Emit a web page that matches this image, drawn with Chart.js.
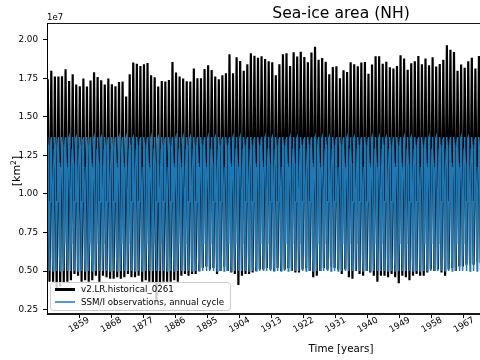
<!DOCTYPE html>
<html>
<head>
<meta charset="utf-8">
<style>
html, body { margin: 0; padding: 0; overflow: hidden; background: #fff; width: 480px; height: 360px; }
#wrap { width: 640px; height: 360px; }
</style>
<script src="https://cdn.jsdelivr.net/npm/chart.js@4.4.1/dist/chart.umd.min.js"></script>
</head>
<body>
<div id="wrap"><canvas id="grafica" width="640" height="360"></canvas></div>
<script>
// valores en unidades de 1e7 km2
const firstYear = 1850;
const annualMax = [
    1.745, 1.800, 1.762, 1.762, 1.765, 1.810, 1.734, 1.777, 1.710, 1.700,
    1.750, 1.697, 1.736, 1.790, 1.760, 1.738, 1.710, 1.749, 1.712, 1.700,
    1.727, 1.730, 1.632, 1.777, 1.853, 1.846, 1.831, 1.842, 1.850, 1.771,
    1.758, 1.697, 1.734, 1.730, 1.740, 1.857, 1.788, 1.762, 1.749, 1.732,
    1.730, 1.814, 1.751, 1.751, 1.812, 1.836, 1.805, 1.762, 1.745, 1.771,
    1.784, 1.907, 1.784, 1.888, 1.864, 1.800, 1.842, 1.913, 1.898, 1.885,
    1.894, 1.877, 1.862, 1.855, 1.771, 1.842, 1.907, 1.913, 1.831, 1.920,
    1.892, 1.924, 1.890, 1.855, 1.918, 1.955, 1.872, 1.883, 1.859, 1.777,
    1.825, 1.829, 1.751, 1.803, 1.792, 1.855, 1.842, 1.829, 1.853, 1.857,
    1.781, 1.840, 1.894, 1.894, 1.846, 1.859, 1.823, 1.814, 1.831, 1.900,
    1.879, 1.807, 1.849, 1.862, 1.896, 1.842, 1.879, 1.836, 1.888, 1.827,
    1.844, 1.872, 1.965, 1.937, 1.922, 1.800, 1.840, 1.820, 1.862, 1.885,
    1.814, 1.896
];
const annualMin = [
    0.43, 0.43, 0.38, 0.40, 0.42, 0.43, 0.44, 0.48, 0.47, 0.43,
    0.44, 0.43, 0.44, 0.47, 0.43, 0.47, 0.46, 0.45, 0.45, 0.46,
    0.45, 0.46, 0.48, 0.46, 0.46, 0.47, 0.43, 0.44, 0.43, 0.42,
    0.30, 0.40, 0.43, 0.43, 0.43, 0.44, 0.43, 0.47, 0.48, 0.47,
    0.48, 0.48, 0.50, 0.52, 0.53, 0.51, 0.52, 0.48, 0.50, 0.53,
    0.50, 0.49, 0.48, 0.41, 0.47, 0.48, 0.48, 0.49, 0.50, 0.51,
    0.51, 0.52, 0.51, 0.50, 0.52, 0.50, 0.51, 0.52, 0.50, 0.49,
    0.49, 0.51, 0.52, 0.50, 0.46, 0.47, 0.50, 0.52, 0.51, 0.53,
    0.52, 0.51, 0.48, 0.51, 0.46, 0.45, 0.50, 0.48, 0.47, 0.50,
    0.49, 0.47, 0.43, 0.47, 0.47, 0.46, 0.48, 0.46, 0.42, 0.47,
    0.46, 0.44, 0.47, 0.48, 0.47, 0.47, 0.49, 0.51, 0.50, 0.51,
    0.49, 0.47, 0.51, 0.52, 0.50, 0.53, 0.53, 0.54, 0.55, 0.54,
    0.56, 0.55
];
// ciclo anual SSM/I (ene..dic)
const ssmiCycle = [1.29, 1.36, 1.37, 1.32, 1.20, 1.04, 0.80, 0.60, 0.50, 0.68, 0.95, 1.17];
const xTicks = [1859, 1868, 1877, 1886, 1895, 1904, 1913, 1922, 1931, 1940, 1949, 1958, 1967, 1976, 1985, 1994, 2003, 2012];
const yTicks = [0.25, 0.50, 0.75, 1.00, 1.25, 1.50, 1.75, 2.00];

const FONT = "'DejaVu Sans', sans-serif";

// marzo = maximo, septiembre = minimo
let modelPts = [];
annualMax.forEach(function(v, i) {
    const yr = firstYear + i;
    modelPts.push({ x: yr + 2.5 / 12, y: v });
    modelPts.push({ x: yr + 8.5 / 12, y: annualMin[i] });
});

let obsPts = [];
for (let yr = firstYear; yr < firstYear + annualMax.length + 1; yr++) {
    ssmiCycle.forEach(function(v, m) {
        obsPts.push({ x: yr + (m + 0.5) / 12, y: v });
    });
}

const decoraciones = {
    id: 'decoraciones',
    afterDatasetsDraw(chart) {
        const ctx = chart.ctx;
        const a = chart.chartArea;
        ctx.save();
        // marco
        ctx.strokeStyle = '#000';
        ctx.lineWidth = 0.9;
        ctx.strokeRect(a.left + 0.5, a.top + 0.5, a.right - a.left - 1, a.bottom - a.top - 1);

        // leyenda
        const lx = 50, ly = 282, lw = 180, lh = 28;
        ctx.beginPath();
        ctx.roundRect(lx + 0.5, ly + 0.5, lw, lh, 3);
        ctx.fillStyle = 'rgba(255,255,255,0.8)';
        ctx.fill();
        ctx.strokeStyle = '#cccccc';
        ctx.lineWidth = 1;
        ctx.stroke();

        ctx.lineCap = 'butt';
        ctx.beginPath();
        ctx.moveTo(55, 289.5); ctx.lineTo(75, 289.5);
        ctx.strokeStyle = '#000'; ctx.lineWidth = 3; ctx.stroke();
        ctx.beginPath();
        ctx.moveTo(55, 302); ctx.lineTo(75, 302);
        ctx.strokeStyle = '#1f77b4'; ctx.lineWidth = 1.5; ctx.stroke();

        ctx.fillStyle = '#000';
        ctx.font = '8.7px ' + FONT;
        ctx.textAlign = 'left';
        ctx.textBaseline = 'middle';
        ctx.fillText('v2.LR.historical_0261', 81, 290);
        ctx.fillText('SSM/I observations, annual cycle', 81, 302.5);
        ctx.restore();
    },
    afterDraw(chart) {
        const ctx = chart.ctx;
        const a = chart.chartArea;
        const sx = chart.scales.x;
        ctx.save();
        ctx.fillStyle = '#000';

        // etiquetas del eje x, rotadas y centradas en la marca
        ctx.font = '8.8px ' + FONT;
        ctx.textAlign = 'center';
        ctx.textBaseline = 'middle';
        xTicks.forEach(function(v) {
            const px = sx.getPixelForValue(v);
            if (px < a.left || px > a.right) return;
            ctx.save();
            ctx.translate(px, 325);
            ctx.rotate(-Math.PI / 6);
            ctx.fillText(String(v), 0, 0);
            ctx.restore();
        });

        ctx.textBaseline = 'alphabetic';
        ctx.font = '15.6px ' + FONT;
        ctx.textAlign = 'center';
        ctx.fillText('Sea-ice area (NH)', 341, 18);

        ctx.font = '10.3px ' + FONT;
        ctx.fillText('Time [years]', 341, 352);

        ctx.font = '8.5px ' + FONT;
        ctx.textAlign = 'left';
        ctx.fillText('1e7', 47, 20);

        // etiqueta eje y con superindice
        ctx.translate(20, 171);
        ctx.rotate(-Math.PI / 2);
        ctx.font = '11px ' + FONT;
        const p1 = '[km', p2 = '2', p3 = ']';
        const w1 = ctx.measureText(p1).width;
        ctx.font = '7.7px ' + FONT;
        const w2 = ctx.measureText(p2).width;
        ctx.font = '11px ' + FONT;
        const w3 = ctx.measureText(p3).width;
        let x0 = -(w1 + w2 + w3) / 2;
        ctx.fillText(p1, x0, 0);
        ctx.font = '7.7px ' + FONT;
        ctx.fillText(p2, x0 + w1, -4.5);
        ctx.font = '11px ' + FONT;
        ctx.fillText(p3, x0 + w1 + w2, 0);
        ctx.restore();
    }
};

const ctx = document.getElementById('grafica').getContext('2d');
const chartArea = new Chart(ctx, {
    type: 'line',
    data: {
        datasets: [{
            label: 'v2.LR.historical_0261',
            data: modelPts,
            borderColor: '#000',
            borderWidth: 2.2,
            pointRadius: 0,
            tension: 0,
            order: 1
        }, {
            label: 'SSM/I observations, annual cycle',
            data: obsPts,
            borderColor: '#1f77b4',
            borderWidth: 1.5,
            pointRadius: 0,
            tension: 0,
            order: 0
        }]
    },
    options: {
        responsive: false,
        animation: false,
        events: [],
        layout: { padding: { left: 0, right: 5, top: 23, bottom: 0 } },
        plugins: {
            legend: { display: false },
            title: { display: false },
            tooltip: { enabled: false }
        },
        scales: {
            x: {
                type: 'linear',
                min: 1850,
                max: 2015,
                afterBuildTicks: function(scale) {
                    scale.ticks = xTicks.map(v => ({ value: v }));
                },
                afterFit: function(scale) { scale.height = 46; },
                grid: { drawOnChartArea: false, drawTicks: true, tickLength: 4, color: '#000' },
                border: { display: true, color: '#000', width: 0.9 },
                ticks: { display: false }
            },
            y: {
                type: 'linear',
                min: 0.221,
                max: 2.110,
                afterBuildTicks: function(scale) {
                    scale.ticks = yTicks.map(v => ({ value: v }));
                },
                afterFit: function(scale) { scale.width = 47; },
                grid: { drawOnChartArea: false, drawTicks: true, tickLength: 4, color: '#000' },
                border: { display: true, color: '#000', width: 0.9 },
                ticks: {
                    padding: 5,
                    color: '#000',
                    font: { family: FONT, size: 8.8 },
                    callback: v => v.toFixed(2)
                }
            }
        }
    },
    plugins: [decoraciones]
});
</script>
</body>
</html>
